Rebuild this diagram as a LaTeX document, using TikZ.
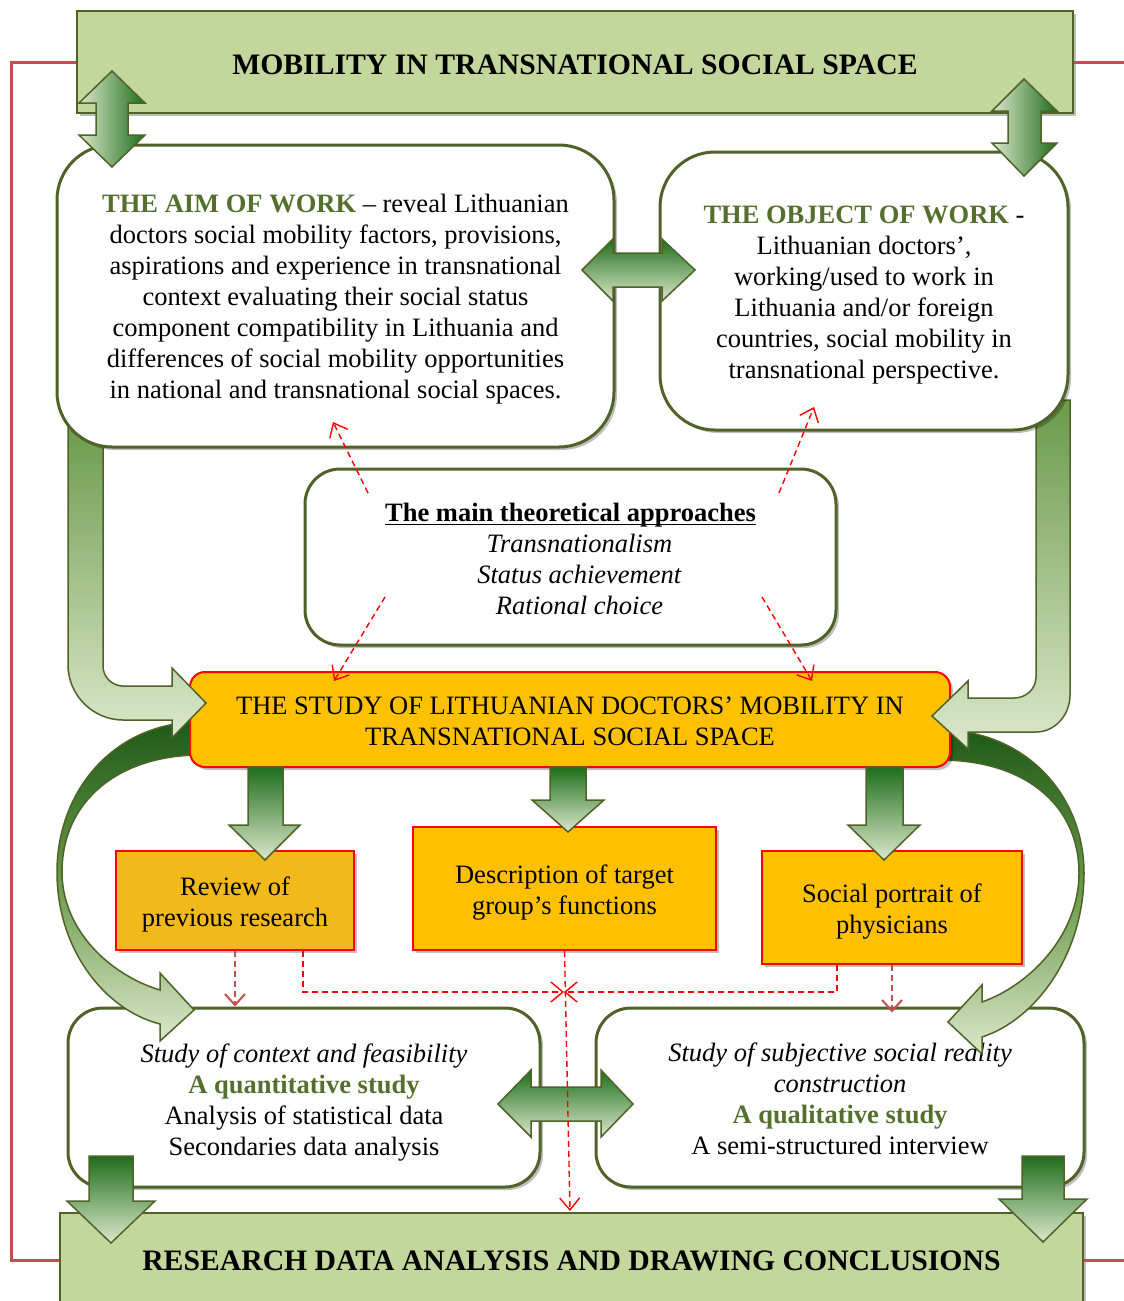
\documentclass[tikz,border=0pt]{standalone}
\usepackage{fontspec}
\setmainfont{Liberation Serif}
\newcommand\myuline[1]{\setbox0\hbox{#1}\rlap{\rule[-4pt]{\wd0}{1.8pt}}\box0}
\newcommand\tup[1]{\rule{0pt}{#1}}
\usetikzlibrary{arrows.meta,shadows,calc}
\definecolor{boxgreen}{HTML}{C3D69B}
\definecolor{olivedark}{HTML}{4F6228}
\definecolor{olivetext}{HTML}{55702E}
\definecolor{framered}{HTML}{C0504D}
\definecolor{studyorange}{HTML}{FFC000}
\definecolor{revieworange}{HTML}{F2B91A}
\definecolor{adark}{HTML}{1E6E1A}
\definecolor{alight}{HTML}{DCE8CC}
\definecolor{lmid}{HTML}{6A9A4A}
\definecolor{cdark}{HTML}{1F5A18}
\definecolor{dashred}{HTML}{FF0000}
\begin{document}
\begin{tikzpicture}[x=1pt,y=-1pt,
  txt/.style={font=\fontsize{26.5}{31}\selectfont, align=center},
  shad/.style={drop shadow={shadow xshift=3pt,shadow yshift=-3pt,opacity=0.25,fill=black}},
  greenbox/.style={draw=olivedark, line width=2pt, fill=boxgreen, inner sep=0pt, shad,
     font=\fontsize{29.7}{34}\selectfont\bfseries},
  roundbox/.style={draw=olivedark, line width=3pt, fill=white, inner sep=0pt, shad, txt},
  orangebox/.style={draw=dashred, line width=2pt, fill=studyorange, inner sep=0pt, shad, txt},
  blockarrow/.style={draw=olivedark, line width=1.5pt, line join=miter},
  vshade/.style={top color=adark, bottom color=alight},
  hshade/.style={left color=alight, right color=adark},
  dashedarrow/.style={draw=dashred, dash pattern=on 6pt off 4pt, line width=1.4pt,
     -{Straight Barb[length=12pt,width=20pt]}},
  darkdashed/.style={draw=framered, dash pattern=on 6pt off 4pt, line width=2pt,
     -{Straight Barb[length=11pt,width=20pt]}}
]
\path[use as bounding box] (0,0) rectangle (1124,1301);
\clip (0,0) rectangle (1124,1301);
\fill[white] (0,0) rectangle (1124,1301);

% top and bottom green boxes
\node[greenbox, minimum width=996pt, minimum height=102pt] (topbox) at (575,62)
  {\tup{25pt}MOBILITY IN TRANSNATIONAL SOCIAL SPACE};
\node[greenbox, minimum width=1023pt, minimum height=94pt] (bottombox) at (571.5,1260)
  {\tup{22pt}RESEARCH DATA ANALYSIS AND DRAWING CONCLUSIONS};

% red frame line
\coordinate (fr1) at (11,62);
\coordinate (fr2) at (11,1260);
\coordinate (fr3) at (1124,62);
\coordinate (fr4) at (1124,1260);
\draw[framered, line width=3pt] (topbox.west) -- (fr1) -- (fr2) -- (bottombox.west);
\draw[framered, line width=3pt] (topbox.east) -- (fr3);
\draw[framered, line width=3pt] (bottombox.east) -- (fr4);

% bottom rounded boxes
\node[roundbox, rounded corners=35pt, minimum width=472pt, minimum height=179pt] (lb) at (304,1097.5)
  {\tup{28pt}\textit{Study of context and feasibility}\\
   \textcolor{olivetext}{\textbf{A quantitative study}}\\
   Analysis of statistical data\\
   Secondaries data analysis};
\node[roundbox, rounded corners=35pt, minimum width=488pt, minimum height=179pt] (rb) at (840,1097.5)
  {\tup{21pt}\textit{Study of subjective social reality}\\
   \textit{construction}\\
   \textcolor{olivetext}{\textbf{A qualitative study}}\\
   A semi-structured interview};

% curved arrows
\path[blockarrow, top color=cdark, bottom color=alight, middle color=lmid]
  (200,722) .. controls (115,722) and (57,790) .. (57,872)
  .. controls (57,950) and (105,1010) .. (160,1024)
  -- (160,1041) -- (194,1010) -- (160,973) -- (160,990)
  .. controls (110,975) and (62,930) .. (62,872)
  .. controls (62,800) and (120,755) .. (200,755) -- cycle;
\path[blockarrow, top color=cdark, bottom color=alight, middle color=lmid]
  (940,730) .. controls (1025,730) and (1084,795) .. (1084,873)
  .. controls (1084,955) and (1035,1020) .. (982,1037)
  -- (982,1054) -- (948,1022) -- (982,985) -- (982,1002)
  .. controls (1030,985) and (1079,935) .. (1079,873)
  .. controls (1079,805) and (1025,760) .. (940,760) -- cycle;

% orange boxes
\node[orangebox, rounded corners=15pt, minimum width=760pt, minimum height=95pt] (study) at (570,719.5)
  {\tup{22pt}THE STUDY OF LITHUANIAN DOCTORS’ MOBILITY IN\\TRANSNATIONAL SOCIAL SPACE};
\node[orangebox, fill=revieworange, minimum width=238pt, minimum height=99pt] (review) at (235,900.5)
  {\tup{27pt}Review of\\previous research};
\node[orangebox, minimum width=303pt, minimum height=123pt] (description) at (564.5,888.5)
  {\tup{27pt}Description of target\\group's functions};
\node[orangebox, minimum width=260pt, minimum height=113pt] (social) at (892,907.5)
  {\tup{27pt}Social portrait of\\physicians};

% L-shaped arrows
\path[blockarrow, top color=lmid, bottom color=alight]
  (68,420) -- (68,665) .. controls (68,695) and (93,720) .. (123,720)
  -- (172,720) -- (172,738) -- (206,703) -- (172,668) -- (172,686)
  -- (123,686) .. controls (112,686) and (103,677) .. (103,666) -- (103,420) -- cycle;
\path[blockarrow, top color=lmid, bottom color=alight]
  (1070,400) -- (1070,695) .. controls (1070,715) and (1055,732) .. (1036,732)
  -- (968,732) -- (968,749) -- (932,716) -- (968,681) -- (968,698)
  -- (1014,698) .. controls (1026,698) and (1036,689) .. (1036,677) -- (1036,400) -- cycle;

% aim, object, theory boxes
\node[roundbox, rounded corners=55pt, minimum width=557pt, minimum height=302pt] (aim) at (335.5,296)
  {\tup{25pt}\textcolor{olivetext}{\textbf{THE AIM OF WORK}} – reveal Lithuanian\\
   doctors social mobility factors, provisions,\\
   aspirations and experience in transnational\\
   context evaluating their social status\\
   component compatibility in Lithuania and\\
   differences of social mobility opportunities\\
   in national and transnational social spaces.};
\node[roundbox, rounded corners=55pt, minimum width=408pt, minimum height=278pt] (object) at (864,291)
  {\tup{26pt}\textcolor{olivetext}{\textbf{THE OBJECT OF WORK}} -\\
   Lithuanian doctors’,\\
   working/used to work in\\
   Lithuania and/or foreign\\
   countries, social mobility in\\
   transnational perspective.};
\node[roundbox, rounded corners=35pt, minimum width=531pt, minimum height=176pt] (theory) at (570.5,557)
  {\tup{22pt}\myuline{\textbf{The main theoretical approaches}}\\
   \hspace*{18pt}\textit{Transnationalism}\\
   \hspace*{18pt}\textit{Status achievement}\\
   \hspace*{18pt}\textit{Rational choice}};

% double arrows at the top
\path[blockarrow, hshade]
  (112,71) -- (145,103) -- (128,103) -- (128,135) -- (145,135) -- (112,167)
  -- (79,135) -- (96,135) -- (96,103) -- (79,103) -- cycle;
\path[blockarrow, hshade]
  (1024,79) -- (1057,111) -- (1041,111) -- (1041,143) -- (1057,143) -- (1024,176)
  -- (992,143) -- (1008,143) -- (1008,111) -- (992,111) -- cycle;
\path[blockarrow, vshade]
  (582,270) -- (613,239) -- (613,253) -- (662,253) -- (662,239) -- (695,270)
  -- (662,301) -- (662,287) -- (613,287) -- (613,301) -- cycle;

% down arrows from the study box
\path[blockarrow, vshade]
  (248,767) -- (283,767) -- (283,825) -- (300,825) -- (265,860) -- (229,825) -- (248,825) -- cycle;
\path[blockarrow, vshade]
  (550,767) -- (586,767) -- (586,800) -- (604,800) -- (568,832) -- (532,800) -- (550,800) -- cycle;
\path[blockarrow, vshade]
  (866,767) -- (903,767) -- (903,825) -- (920,825) -- (884,860) -- (848,825) -- (866,825) -- cycle;

% bottom double arrow and down arrows
\path[blockarrow, vshade]
  (498,1104) -- (531,1070) -- (531,1087) -- (601,1087) -- (601,1070) -- (633,1104)
  -- (601,1137) -- (601,1121) -- (531,1121) -- (531,1137) -- cycle;
\path[blockarrow, vshade]
  (89,1156) -- (133,1156) -- (133,1201) -- (155,1201) -- (111,1243) -- (67,1201) -- (89,1201) -- cycle;
\path[blockarrow, vshade]
  (1022,1156) -- (1064,1156) -- (1064,1199) -- (1087,1199) -- (1043,1242) -- (999,1199) -- (1022,1199) -- cycle;

% dashed connectors
\coordinate (d1s) at (368,493); \coordinate (d1e) at (333,422);
\coordinate (d2s) at (779,493); \coordinate (d2e) at (814,407);
\coordinate (d3s) at (385,597); \coordinate (d3e) at (334,681);
\coordinate (d4s) at (762,597); \coordinate (d4e) at (812,681);
\draw[dashedarrow] (d1s) -- (d1e);
\draw[dashedarrow] (d2s) -- (d2e);
\draw[dashedarrow] (d3s) -- (d3e);
\draw[dashedarrow] (d4s) -- (d4e);

\coordinate (cross) at (564,992);
\coordinate (rv2) at ($(review.south east)+(-52,0)$);
\coordinate (sc2) at ($(social.south west)+(76,0)$);
\coordinate (dend) at (570,1211);
\draw[dashedarrow] (rv2) |- (cross);
\draw[dashedarrow] (sc2) |- (cross);
\draw[dashedarrow] (description.south) -- (dend);
\draw[darkdashed] (review.south) -- (review.south |- lb.north);
\draw[darkdashed] (social.south) -- ($(social.south |- rb.north)+(0,6)$);
\end{tikzpicture}
\end{document}
